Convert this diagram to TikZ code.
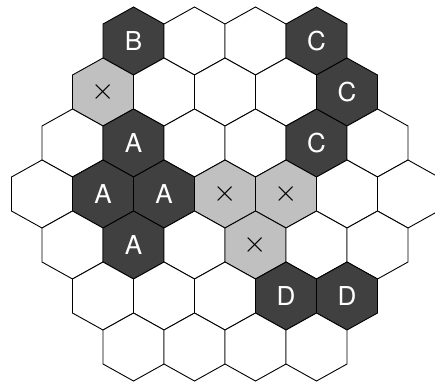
\RequirePackage{fix-cm}
\documentclass[tikz,border=0pt]{standalone}
\usepackage{fontspec}
\setmainfont{TeX Gyre Heros}

\definecolor{stonedark}{HTML}{404040}
\definecolor{stonelight}{HTML}{C0C0C0}

\tikzset{
    cellw/.style={draw=black, fill=white, line width=0.9pt, line join=miter},
    cellx/.style={draw=black, fill=stonelight, line width=0.9pt, line join=miter},
    celld/.style={draw=black, fill=stonedark, line width=0.9pt, line join=miter},
    textw/.style={inner sep=0pt},
    textx/.style={inner sep=0pt, text=black, font=\fontsize{30}{30}\selectfont},
    textd/.style={inner sep=0pt, text=white, font=\fontsize{26}{26}\selectfont},
}

% one cell: row, cells in that row, index in row, kind (w/x/d), text
\newcommand{\hexcell}[5]{%
    \pgfmathsetmacro{\hx}{225+(#3-1-(#2-1)/2)*61}
    \pgfmathsetmacro{\hy}{41+(#1-1)*51}
    \draw[cell#4] (\hx,\hy) ++(30.5,17) -- ++(-30.5,17) -- ++(-30.5,-17)
        -- ++(0,-34) -- ++(30.5,-17) -- ++(30.5,17) -- cycle;
    \node[text#4] (h#1-#3) at (\hx,\hy) {#5};
}

\begin{document}
\begin{tikzpicture}[x=1pt, y=-1pt]
    % picture frame in pixel units, origin top-left
    \useasboundingbox (0,0) rectangle (435,381);
    \clip (0,0) rectangle (435,381);

    % --- Board, row by row (4-5-6-7-6-5-4 cells) ---
    \foreach \s/\t [count=\i] in {d/B, w/, w/, d/C}
        {\hexcell{1}{4}{\i}{\s}{\t}}
    \foreach \s/\t [count=\i] in {x/$\times$, w/, w/, w/, d/C}
        {\hexcell{2}{5}{\i}{\s}{\t}}
    \foreach \s/\t [count=\i] in {w/, d/A, w/, w/, d/C, w/}
        {\hexcell{3}{6}{\i}{\s}{\t}}
    \foreach \s/\t [count=\i] in {w/, d/A, d/A, x/$\times$, x/$\times$, w/, w/}
        {\hexcell{4}{7}{\i}{\s}{\t}}
    \foreach \s/\t [count=\i] in {w/, d/A, w/, x/$\times$, w/, w/}
        {\hexcell{5}{6}{\i}{\s}{\t}}
    \foreach \s/\t [count=\i] in {w/, w/, w/, d/D, d/D}
        {\hexcell{6}{5}{\i}{\s}{\t}}
    \foreach \s/\t [count=\i] in {w/, w/, w/, w/}
        {\hexcell{7}{4}{\i}{\s}{\t}}

\end{tikzpicture}
\end{document}
